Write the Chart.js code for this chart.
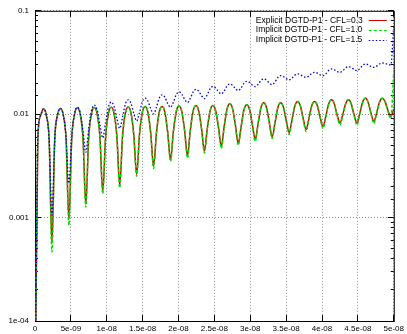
<!DOCTYPE html>
<html>
<head>
<meta charset="utf-8">
<script src="https://cdn.jsdelivr.net/npm/chart.js@4.4.1/dist/chart.umd.min.js"></script>
<style>
  html, body { margin: 0; padding: 0; background: #fff; }
  #wrap { width: 407px; height: 334px; }
</style>
</head>
<body>
<div id="wrap"><canvas id="myChart" width="407" height="334"></canvas></div>
<script>
// Sample times in nanoseconds (six samples per oscillation period)
var timeNs = [
  0, 0.39, 0.79, 1.18, 1.57, 1.97,
  2.36, 2.75, 3.15, 3.54, 3.94, 4.33,
  4.72, 5.12, 5.51, 5.90, 6.30, 6.69,
  7.08, 7.48, 7.87, 8.26, 8.66, 9.05,
  9.44, 9.84, 10.23, 10.62, 11.02, 11.41,
  11.81, 12.20, 12.59, 12.99, 13.38, 13.77,
  14.17, 14.56, 14.95, 15.35, 15.74, 16.13,
  16.53, 16.92, 17.31, 17.71, 18.10, 18.49,
  18.89, 19.28, 19.68, 20.07, 20.46, 20.86,
  21.25, 21.64, 22.04, 22.43, 22.82, 23.22,
  23.61, 24.00, 24.40, 24.79, 25.18, 25.58,
  25.97, 26.36, 26.76, 27.15, 27.55, 27.94,
  28.33, 28.73, 29.12, 29.51, 29.91, 30.30,
  30.69, 31.09, 31.48, 31.87, 32.27, 32.66,
  33.05, 33.45, 33.84, 34.23, 34.63, 35.02,
  35.42, 35.81, 36.20, 36.60, 36.99, 37.38,
  37.78, 38.17, 38.56, 38.96, 39.35, 39.74,
  40.14, 40.53, 40.92, 41.32, 41.71, 42.10,
  42.50, 42.89, 43.29, 43.68, 44.07, 44.47,
  44.86, 45.25, 45.65, 46.04, 46.43, 46.83,
  47.22, 47.61, 48.01, 48.40, 48.79, 49.19,
  49.58, 50.00
];

// Error values, in units of 1e-3
var explicitCfl03 = [
  0.01, 5.63, 9.75, 11.26, 9.76, 5.65,
  0.566, 5.69, 9.83, 11.34, 9.83, 5.73,
  0.964, 5.80, 9.95, 11.47, 9.96, 5.85,
  1.345, 5.92, 10.07, 11.60, 10.09, 6.00,
  1.775, 6.03, 10.15, 11.67, 10.16, 6.10,
  2.051, 6.13, 10.21, 11.73, 10.24, 6.29,
  2.619, 6.35, 10.35, 11.86, 10.39, 6.52,
  3.127, 6.52, 10.39, 11.86, 10.43, 6.71,
  3.613, 6.77, 10.55, 12.00, 10.58, 6.91,
  3.949, 6.96, 10.69, 12.13, 10.73, 7.17,
  4.413, 7.17, 10.73, 12.13, 10.78, 7.39,
  4.877, 7.58, 11.17, 12.59, 11.21, 7.75,
  5.214, 7.64, 10.98, 12.32, 11.04, 7.89,
  5.697, 8.11, 11.51, 12.88, 11.55, 8.29,
  6.022, 8.29, 11.55, 12.88, 11.64, 8.64,
  6.655, 8.78, 11.95, 13.25, 12.01, 9.05,
  7.113, 9.05, 12.01, 13.25, 12.09, 9.34,
  7.604, 9.52, 12.51, 13.76, 12.60, 9.90,
  8.219, 9.90, 12.60, 13.76, 12.60, 9.90,
  8.219, 10.07, 13.01, 14.26, 13.06, 10.25,
  8.497, 10.25, 13.06, 14.26, 13.23, 10.88,
  9.495, 11.2
];

var implicitCfl10 = [
  0.01, 5.63, 9.75, 11.26, 9.75, 5.64,
  0.466, 5.68, 9.82, 11.34, 9.83, 5.72,
  0.843, 5.78, 9.94, 11.47, 9.95, 5.84,
  1.266, 5.90, 10.07, 11.60, 10.08, 5.99,
  1.705, 6.02, 10.14, 11.67, 10.15, 6.07,
  1.940, 6.10, 10.21, 11.73, 10.24, 6.25,
  2.505, 6.32, 10.35, 11.86, 10.38, 6.47,
  2.991, 6.47, 10.38, 11.86, 10.42, 6.66,
  3.495, 6.72, 10.54, 12.00, 10.56, 6.83,
  3.778, 6.89, 10.67, 12.13, 10.71, 7.08,
  4.221, 7.08, 10.71, 12.13, 10.76, 7.29,
  4.665, 7.48, 11.15, 12.59, 11.19, 7.63,
  4.988, 7.52, 10.96, 12.32, 11.01, 7.76,
  5.450, 7.99, 11.48, 12.88, 11.53, 8.18,
  5.825, 8.18, 11.53, 12.88, 11.60, 8.48,
  6.365, 8.62, 11.91, 13.25, 11.97, 8.87,
  6.806, 8.87, 11.97, 13.25, 12.04, 9.14,
  7.274, 9.33, 12.46, 13.76, 12.55, 9.68,
  7.862, 9.68, 12.55, 13.76, 12.55, 9.68,
  7.862, 9.86, 12.96, 14.26, 13.00, 10.02,
  8.128, 10.02, 13.00, 14.26, 13.16, 10.62,
  9.083, 26.4
];

var implicitCfl15 = [
  0.01, 5.63, 9.75, 11.26, 9.77, 5.70,
  1.053, 5.74, 9.84, 11.34, 9.88, 5.97,
  2.144, 6.12, 10.16, 11.67, 10.33, 6.91,
  4.269, 7.16, 10.83, 12.26, 11.02, 7.97,
  5.889, 8.30, 11.72, 13.10, 11.91, 9.09,
  7.274, 9.33, 12.46, 13.76, 12.67, 10.13,
  8.594, 10.33, 13.13, 14.32, 13.39, 11.29,
  10.08, 11.64, 14.27, 15.41, 14.57, 12.71,
  11.67, 13.02, 15.38, 16.43, 15.63, 13.91,
  12.96, 14.21, 16.41, 17.41, 16.66, 15.04,
  14.16, 15.38, 17.56, 18.56, 17.89, 16.47,
  15.72, 16.78, 18.73, 19.63, 18.99, 17.64,
  16.92, 17.97, 19.90, 20.80, 20.25, 19.09,
  18.48, 19.40, 21.13, 21.94, 21.32, 20.01,
  19.32, 20.48, 22.61, 23.60, 23.08, 22.02,
  21.46, 22.26, 23.78, 24.51, 24.08, 23.19,
  22.73, 23.43, 24.76, 25.40, 24.96, 24.06,
  23.60, 24.60, 26.50, 27.39, 26.91, 25.91,
  25.40, 26.30, 28.01, 28.83, 28.24, 27.01,
  26.38, 27.50, 29.61, 30.61, 30.07, 28.96,
  28.38, 29.14, 30.59, 31.29, 30.96, 30.28,
  29.93, 71.6
];

var seriesLabels = ["Explicit DGTD-P1 - CFL=0.3", "Implicit DGTD-P1 - CFL=1.0", "Implicit DGTD-P1 - CFL=1.5"];
var xTickLabels = ["0", "5e-09", "1e-08", "1.5e-08", "2e-08", "2.5e-08", "3e-08", "3.5e-08", "4e-08", "4.5e-08", "5e-08"];
var yDecades = [1e-4, 1e-3, 1e-2, 1e-1];
var yTickLabels = ["1e-04", "0.001", "0.01", "0.1"];

var tickFont = { family: "'Liberation Sans', Arial, sans-serif", size: 8 };

function decadeIndex(v) {
  for (var i = 0; i < yDecades.length; i++) {
    if (Math.abs(Math.log10(v) - Math.log10(yDecades[i])) < 1e-6) return i;
  }
  return -1;
}

function points(vals) {
  return timeNs.map(function (t, i) { return { x: t, y: vals[i] * 1e-3 }; });
}

// border box with inward tick marks on all four sides
var frame = {
  id: 'frame',
  beforeDatasetsDraw: function (chart) {
    var c = chart.ctx, a = chart.chartArea;
    var xs = chart.scales.x, ys = chart.scales.y;
    c.save();
    c.strokeStyle = '#000';
    c.lineWidth = 1;
    c.beginPath();
    ys.ticks.forEach(function (t) {
      var py = Math.round(ys.getPixelForValue(t.value) - 0.5) + 0.5;
      var len = decadeIndex(t.value) >= 0 ? 6 : 3;
      c.moveTo(a.left, py); c.lineTo(a.left + len, py);
      c.moveTo(a.right, py); c.lineTo(a.right - len, py);
    });
    xs.ticks.forEach(function (t) {
      var px = Math.round(xs.getPixelForValue(t.value) - 0.5) + 0.5;
      c.moveTo(px, a.bottom); c.lineTo(px, a.bottom - 6);
      c.moveTo(px, a.top); c.lineTo(px, a.top + 6);
    });
    c.stroke();
    c.strokeRect(a.left + 0.5, a.top + 0.5, a.right - a.left, a.bottom - a.top);
    c.restore();
  }
};

// gnuplot style key: text first, then a short line sample
var key = {
  id: 'key',
  afterDatasetsDraw: function (chart) {
    var c = chart.ctx, a = chart.chartArea;
    c.save();
    c.font = "8.5px 'Liberation Sans', Arial, sans-serif";
    c.textBaseline = 'middle';
    c.textAlign = 'left';
    chart.data.datasets.forEach(function (ds, i) {
      var yy = a.top + 9.5 + i * 9.75;
      c.fillStyle = '#000';
      c.fillText(ds.label, a.right - 138, yy);
      c.strokeStyle = ds.borderColor;
      c.lineWidth = 1;
      c.setLineDash(ds.borderDash || []);
      c.beginPath();
      c.moveTo(a.right - 25, Math.round(yy) + 0.5);
      c.lineTo(a.right - 7, Math.round(yy) + 0.5);
      c.stroke();
    });
    c.restore();
  }
};

var ctx = document.getElementById("myChart");
var myChart = new Chart(ctx, {
  type: 'line',
  data: {
    datasets: [
      {
        label: seriesLabels[0],
        data: points(explicitCfl03),
        borderColor: "#cc0000",
        borderWidth: 1.5,
        order: 3
      },
      {
        label: seriesLabels[1],
        data: points(implicitCfl10),
        borderColor: "#00dd00",
        borderWidth: 1.5,
        borderDash: [3, 2],
        order: 2
      },
      {
        label: seriesLabels[2],
        data: points(implicitCfl15),
        borderColor: "#0000e0",
        borderWidth: 1.3,
        borderDash: [1.5, 2],
        order: 1
      }
    ]
  },
  options: {
    responsive: false,
    animation: false,
    devicePixelRatio: 1,
    layout: { padding: { top: 10, right: 13, left: 0, bottom: 0 } },
    elements: {
      point: { radius: 0 },
      line: { cubicInterpolationMode: 'monotone', borderJoinStyle: 'round', fill: false }
    },
    plugins: { legend: { display: false }, tooltip: { enabled: false } },
    scales: {
      x: {
        type: 'linear',
        min: 0,
        max: 50,
        afterFit: function (s) { s.height = 13; },
        ticks: {
          stepSize: 5,
          padding: 3,
          autoSkip: false,
          maxRotation: 0,
          color: '#000',
          font: tickFont,
          callback: function (v) { return xTickLabels[Math.round(v / 5)]; }
        },
        grid: { color: '#8c8c8c', drawTicks: false },
        border: { display: false, dash: [1, 2] }
      },
      y: {
        type: 'logarithmic',
        min: 1e-4,
        max: 0.1,
        afterFit: function (s) { s.width = 35; },
        ticks: {
          padding: 6,
          autoSkip: false,
          color: '#000',
          font: tickFont,
          callback: function (v) {
            var i = decadeIndex(v);
            return i < 0 ? '' : yTickLabels[i];
          }
        },
        grid: {
          drawTicks: false,
          color: function (c) {
            return c.tick && decadeIndex(c.tick.value) >= 0 ? '#8c8c8c' : 'rgba(0,0,0,0)';
          }
        },
        border: { display: false, dash: [1, 2] }
      }
    }
  },
  plugins: [frame, key]
});
</script>
</body>
</html>
